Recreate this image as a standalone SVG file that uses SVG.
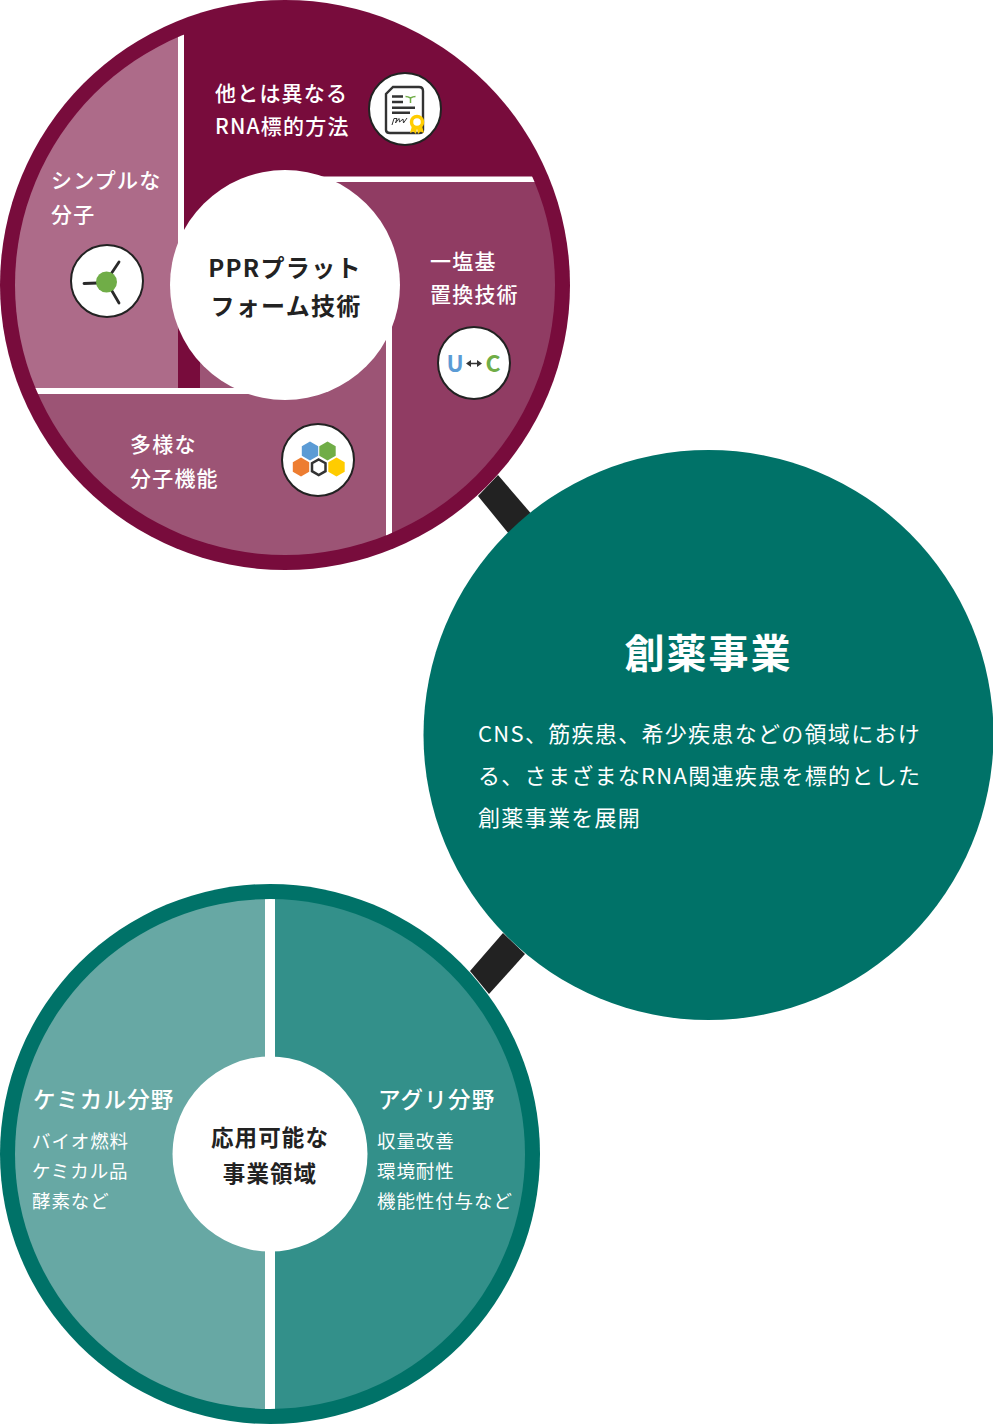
<svg xmlns="http://www.w3.org/2000/svg" width="993" height="1424" viewBox="0 0 993 1424">
<style>
text{font-family:"Noto Sans CJK JP","Noto Sans",sans-serif}
.w{fill:#fff}.m{font-size:21px;font-weight:500;letter-spacing:1.2px;fill:#fff}
.c{font-size:24px;font-weight:700;letter-spacing:1.3px;fill:#222;text-anchor:middle}
.b{font-size:22px;font-weight:400;letter-spacing:1.3px;fill:#fff}
.h{font-size:22.5px;font-weight:500;letter-spacing:1.2px;fill:#fff}
.s{font-size:18.5px;font-weight:400;letter-spacing:.9px;fill:#fff}
.d{font-size:22.5px;font-weight:700;letter-spacing:1.1px;fill:#222;text-anchor:middle}
.ic{fill:#fff;stroke:#222;stroke-width:2}
.ln{stroke:#333;stroke-width:2.4;fill:none}
</style>
<defs>
<clipPath id="a"><circle cx="285" cy="285" r="270"/></clipPath>
<clipPath id="t"><circle cx="270" cy="1154" r="255"/></clipPath>
</defs>
<g id="connectors">
<polygon points="478,496 498,475 540,524 518,545" fill="#222"/>
<polygon points="503,933 525,954 489,994 470,971" fill="#222"/>
</g>
<g id="ppr">
<circle cx="285" cy="285" r="285" fill="#780c3c"/>
<g clip-path="url(#a)">
<rect x="0" y="0" width="178" height="388" fill="#ad6b89"/>
<rect x="392" y="182" width="200" height="400" fill="#903c63"/>
<rect x="330" y="182" width="70" height="200" fill="#903c63"/>
<rect x="0" y="394" width="386" height="200" fill="#9c5475"/>
<rect x="200" y="340" width="186" height="60" fill="#9c5475"/>
<rect x="178" y="0" width="6" height="260" fill="#fff"/>
<rect x="310" y="176.500" width="280" height="5.500" fill="#fff"/>
<rect x="386" y="310" width="6" height="290" fill="#fff"/>
<rect x="0" y="388" width="270" height="6" fill="#fff"/>
</g>
<circle cx="285" cy="285" r="115" fill="#fff"/>
<text class="c" x="285" y="277">PPRプラット</text>
<text class="c" x="286" y="315">フォーム技術</text>
</g>
<g id="n-method">
<text class="m" x="215" y="101">他とは異なる</text>
<text class="m" x="215" y="134">RNA標的方法</text>
<circle class="ic" cx="405" cy="109" r="36"/>
<path class="ln" d="M393 87H419Q423 87 423 91V130Q423 133 419 133H390Q386 133 386 130V94Z" stroke-width="2"/>
<path class="ln" d="M392 96.500H403M392 102H403M392 107.700H415M392 112.700H410"/>
<path d="M410.500 103V97M405.500 96.500Q408 96.500 410.500 98Q413 96.500 415.500 96.500" stroke="#70ad47" stroke-width="1.500" fill="none"/>
<path d="M392 125L394 118.500H397L395.500 123L399 118.500L399.500 122L403 119L403.500 123L407 118" stroke="#333" stroke-width="1" fill="none"/>
<path d="M412 126L410 133L413.500 131.500L416 134L417 128ZM422 126L424 133L420.500 131.500L418 134L417 128Z" fill="#fc0"/>
<circle cx="417" cy="122" r="5.500" fill="#fff" stroke="#fc0" stroke-width="3.500"/>
</g>
<g id="n-simple">
<text class="m" x="51" y="188">シンプルな</text>
<text class="m" x="51" y="222">分子</text>
<circle class="ic" cx="107" cy="281" r="36"/>
<path class="ln" d="M84 283.500L98 283M119 262L111 274M112 291L119 303" stroke-linecap="round" style="stroke:#2a2a2a;stroke-width:2.800"/>
<circle cx="106.500" cy="282" r="10.500" fill="#70ad47"/>
</g>
<g id="n-base">
<text class="m" x="430" y="269">一塩基</text>
<text class="m" x="430" y="302">置換技術</text>
<circle class="ic" cx="474" cy="363" r="36"/>
<text x="455" y="372" font-size="23" font-weight="700" fill="#5b9bd5" text-anchor="middle">U</text>
<text x="493" y="372" font-size="23" font-weight="700" fill="#70ad47" text-anchor="middle">C</text>
<path d="M466 363.500L471 360V362.700H477V360L482 363.500L477 367V364.300H471V367Z" fill="#333"/>
</g>
<g id="n-func">
<text class="m" x="130" y="452">多様な</text>
<text class="m" x="130" y="486">分子機能</text>
<circle class="ic" cx="318" cy="460" r="36"/>
<polygon points="310,441.500 318.200,446.200 318.200,455.800 310,460.500 301.800,455.800 301.800,446.200" fill="#5b9bd5"/>
<polygon points="327.500,441.500 335.700,446.200 335.700,455.800 327.500,460.500 319.300,455.800 319.300,446.200" fill="#70ad47"/>
<polygon points="301,457.500 309.200,462.200 309.200,471.800 301,476.500 292.800,471.800 292.800,462.200" fill="#ed7d31"/>
<polygon points="336.500,457.500 344.700,462.200 344.700,471.800 336.500,476.500 328.300,471.800 328.300,462.200" fill="#fc0"/>
<polygon points="318.700,459.500 325.500,463.200 325.500,471.200 318.700,475 312,471.200 312,463.200" fill="#fff" stroke="#333" stroke-width="2.500"/>
</g>
<g id="apps">
<circle cx="270" cy="1154" r="270" fill="#007268"/>
<g clip-path="url(#t)">
<rect x="0" y="884" width="265" height="540" fill="#67a8a4"/>
<rect x="275" y="884" width="270" height="540" fill="#33908a"/>
<rect x="265" y="884" width="10" height="540" fill="#fff"/>
</g>
<circle cx="270" cy="1154" r="97.500" fill="#fff"/>
<text class="d" x="270" y="1146">応用可能な</text>
<text class="d" x="270" y="1182">事業領域</text>
</g>
<g id="n-chem">
<text class="h" x="33" y="1108">ケミカル分野</text>
<text class="s" x="32" y="1148">バイオ燃料</text>
<text class="s" x="32" y="1178">ケミカル品</text>
<text class="s" x="32" y="1208">酵素など</text>
</g>
<g id="n-agri">
<text class="h" x="378" y="1108">アグリ分野</text>
<text class="s" x="377" y="1148">収量改善</text>
<text class="s" x="377" y="1178">環境耐性</text>
<text class="s" x="377" y="1208">機能性付与など</text>
</g>
<g id="drug">
<circle cx="708.500" cy="735" r="285" fill="#007268"/>
<text x="708.500" y="668" font-size="40" font-weight="700" letter-spacing="2" fill="#fff" text-anchor="middle">創薬事業</text>
<text class="b" x="478" y="742">CNS、筋疾患、希少疾患などの領域におけ</text>
<text class="b" x="478" y="784">る、さまざまなRNA関連疾患を標的とした</text>
<text class="b" x="478" y="826">創薬事業を展開</text>
</g>
</svg>
